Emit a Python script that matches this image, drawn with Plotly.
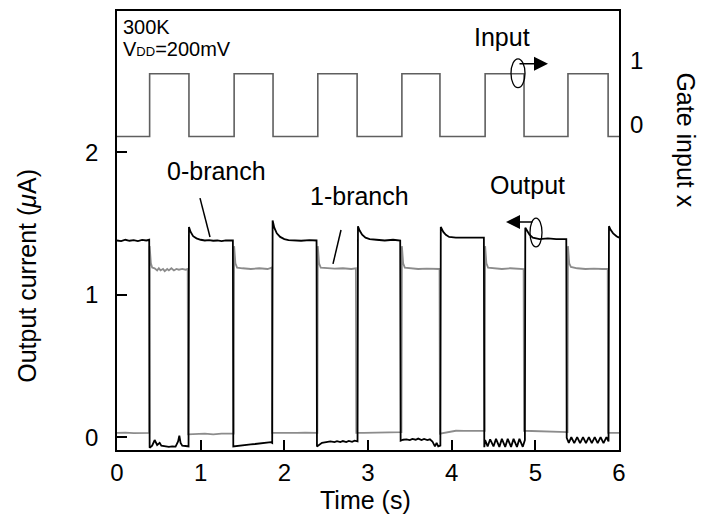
import plotly.graph_objects as go

# ---------------- data ----------------
# Gate input x (square wave), right axis
input_t = [0, 0.39, 0.39, 0.86, 0.86, 1.40, 1.40, 1.865, 1.865, 2.40, 2.40, 2.87, 2.87,
           3.405, 3.405, 3.86, 3.86, 4.40, 4.40, 4.865, 4.865, 5.39, 5.39, 5.87, 5.87, 6.0]
input_v = [0, 0, 1, 1, 0, 0, 1, 1, 0, 0, 1, 1, 0,
           0, 1, 1, 0, 0, 1, 1, 0, 0, 1, 1, 0, 0]

# 0-branch output current (uA), black
branch0_t = [0, 0.05, 0.10, 0.15, 0.20, 0.25, 0.30, 0.35, 0.385,
             0.39, 0.42, 0.45, 0.48, 0.51, 0.53, 0.57, 0.62, 0.66, 0.70, 0.73, 0.745, 0.76, 0.78, 0.82, 0.855,
             0.86, 0.88, 0.91, 0.95, 1.00, 1.05, 1.10, 1.15, 1.20, 1.25, 1.30, 1.385,
             1.39, 1.45, 1.50, 1.55, 1.60, 1.65, 1.70, 1.75, 1.80, 1.84, 1.855,
             1.86, 1.88, 1.91, 1.95, 2.00, 2.05, 2.10, 2.20, 2.30, 2.385,
             2.39, 2.42, 2.45, 2.50, 2.55, 2.60, 2.63, 2.67, 2.70, 2.74, 2.77, 2.81, 2.84, 2.875,
             2.88, 2.90, 2.93, 2.97, 3.02, 3.10, 3.20, 3.30, 3.385,
             3.39, 3.42, 3.46, 3.50, 3.53, 3.57, 3.60, 3.64, 3.67, 3.71, 3.74, 3.77, 3.80, 3.82, 3.84, 3.865,
             3.87, 3.90, 3.93, 3.97, 4.05, 4.15, 4.25, 4.385,
             4.39, 4.40, 4.43, 4.46, 4.50, 4.53, 4.57, 4.60, 4.64, 4.67, 4.71, 4.74, 4.78, 4.81, 4.85, 4.875,
             4.88, 4.90, 4.93, 4.97, 5.05, 5.15, 5.25, 5.37,
             5.375, 5.40, 5.43, 5.465, 5.50, 5.535, 5.57, 5.605, 5.64, 5.675, 5.71, 5.745, 5.78, 5.815, 5.85, 5.875,
             5.88, 5.90, 5.93, 5.97, 6.0]
branch0_i = [1.38, 1.375, 1.385, 1.378, 1.383, 1.376, 1.384, 1.38, 1.385,
             -0.075, -0.06, -0.02, -0.055, -0.04, -0.06, -0.065, -0.068, -0.065, -0.066, -0.03, 0.01, -0.04, -0.06, -0.062, -0.065,
             1.475, 1.44, 1.41, 1.395, 1.385, 1.38, 1.382, 1.378, 1.38, 1.376, 1.38, 1.38,
             -0.065, -0.06, -0.055, -0.052, -0.05, -0.048, -0.045, -0.043, -0.04, -0.035, -0.04,
             1.52, 1.47, 1.43, 1.405, 1.39, 1.383, 1.38, 1.378, 1.382, 1.38,
             -0.065, -0.05, -0.04, -0.035, -0.03, -0.035, -0.028, -0.035, -0.027, -0.034, -0.026, -0.033, -0.025, -0.03,
             1.48, 1.45, 1.42, 1.40, 1.39, 1.385, 1.38, 1.385, 1.38,
             -0.025, -0.018, -0.015, -0.02, -0.012, -0.018, -0.01, -0.02, -0.012, -0.02, -0.015, -0.03, -0.065, -0.04, -0.065, -0.06,
             1.475, 1.44, 1.42, 1.405, 1.40, 1.398, 1.40, 1.40,
             -0.07, -0.02, -0.065, -0.015, -0.065, -0.012, -0.068, -0.012, -0.068, -0.012, -0.068, -0.012, -0.068, -0.012, -0.068, -0.02,
             1.47, 1.45, 1.42, 1.40, 1.39, 1.395, 1.39, 1.39,
             -0.005, -0.04, 0.0, -0.042, 0.0, -0.042, 0.0, -0.042, 0.0, -0.042, 0.0, -0.042, 0.0, -0.042, 0.0, -0.03,
             1.48, 1.455, 1.43, 1.41, 1.40]

# 1-branch output current (uA), grey
branch1_t = [0, 0.10, 0.20, 0.30, 0.385,
             0.39, 0.405, 0.42, 0.45, 0.48, 0.50, 0.52, 0.55, 0.57, 0.60, 0.62, 0.65, 0.68, 0.71, 0.74, 0.78, 0.82, 0.845,
             0.85, 0.95, 1.05, 1.15, 1.25, 1.395,
             1.40, 1.415, 1.435, 1.50, 1.60, 1.70, 1.80, 1.85,
             1.855, 1.95, 2.05, 2.15, 2.25, 2.395,
             2.40, 2.415, 2.435, 2.50, 2.60, 2.70, 2.80, 2.855,
             2.86, 2.95, 3.05, 3.15, 3.25, 3.40,
             3.405, 3.42, 3.44, 3.50, 3.60, 3.70, 3.80, 3.855,
             3.86, 3.90, 4.00, 4.05, 4.15, 4.25, 4.395,
             4.40, 4.415, 4.435, 4.50, 4.60, 4.70, 4.80, 4.86,
             4.865, 4.95, 5.05, 5.15, 5.25, 5.385,
             5.39, 5.405, 5.425, 5.50, 5.60, 5.70, 5.80, 5.865,
             5.87, 5.95, 6.0]
branch1_i = [0.03, 0.032, 0.028, 0.03, 0.03,
             1.34, 1.22, 1.19, 1.185, 1.17, 1.185, 1.17, 1.18, 1.165, 1.18, 1.17, 1.185, 1.17, 1.18, 1.175, 1.18, 1.175, 1.18,
             0.02, 0.022, 0.025, 0.02, 0.025, 0.025,
             1.34, 1.22, 1.19, 1.185, 1.18, 1.185, 1.18, 1.19,
             0.03, 0.03, 0.028, 0.03, 0.032, 0.03,
             1.34, 1.22, 1.19, 1.185, 1.182, 1.185, 1.18, 1.185,
             0.03, 0.03, 0.032, 0.03, 0.033, 0.035,
             1.34, 1.22, 1.19, 1.185, 1.18, 1.183, 1.18, 1.18,
             0.025, 0.03, 0.04, 0.045, 0.044, 0.045, 0.045,
             1.34, 1.22, 1.19, 1.185, 1.18, 1.185, 1.18, 1.18,
             0.045, 0.044, 0.04, 0.038, 0.036, 0.035,
             1.34, 1.22, 1.195, 1.185, 1.18, 1.183, 1.18, 1.18,
             0.03, 0.03, 0.03]

x_ticks = [0, 1, 2, 3, 4, 5, 6]
y_ticks = [0, 1, 2]
y2_ticks = [0, 1]

# ---------------- layout helpers ----------------
W, H = 704, 518
L, R, T, B = 117, 619, 9, 450


def fx(px):
    return (px - L) / (R - L)


def fy(py):
    return (B - py) / (B - T)


FONT = "Liberation Sans, Arial, Helvetica, sans-serif"

fig = go.Figure()
fig.add_trace(go.Scatter(x=input_t, y=input_v, mode="lines", yaxis="y2",
                         line=dict(color="#5f5f5f", width=1.6), showlegend=False))
fig.add_trace(go.Scatter(x=branch1_t, y=branch1_i, mode="lines",
                         line=dict(color="#8c8c8c", width=1.8), showlegend=False))
fig.add_trace(go.Scatter(x=branch0_t, y=branch0_i, mode="lines",
                         line=dict(color="#000000", width=1.8), showlegend=False))

fig.update_layout(
    width=W, height=H,
    margin=dict(l=L, r=W - R, t=T, b=H - B),
    paper_bgcolor="white", plot_bgcolor="white",
    font=dict(family=FONT, color="black", size=24),
    xaxis=dict(range=[0, 6], tickvals=x_ticks, ticks="inside", ticklen=10, tickwidth=1.5,
               tickcolor="black", showline=True, linecolor="black", linewidth=1.6, mirror=True,
               showgrid=False, zeroline=False, tickfont=dict(size=24), ticklabelstandoff=0),
    yaxis=dict(range=[-0.09, 2.99], tickvals=y_ticks, ticks="inside", ticklen=10, tickwidth=1.5,
               tickcolor="black", showline=True, linecolor="black", linewidth=1.6, mirror=True,
               showgrid=False, zeroline=False, tickfont=dict(size=24), ticklabelstandoff=12),
    yaxis2=dict(range=[-5, 2], tickvals=y2_ticks, overlaying="y", side="right",
                showticklabels=False, ticks="", showgrid=False, zeroline=False, showline=False),
)

ann = []


def text(s, x, y, size=25, xanchor="center", angle=0):
    ann.append(dict(text=s, x=fx(x), y=fy(y), xref="paper", yref="paper", showarrow=False,
                    xanchor=xanchor, yanchor="middle", textangle=angle,
                    font=dict(size=size, family=FONT, color="black")))


text("300K", 121, 25, size=20, xanchor="left")
text("V<span style='font-size:13px'>DD</span>=200mV", 121, 47, size=20, xanchor="left")
text("Input", 502, 35)
text("Output", 527, 184)
text("0-branch", 216, 170)
text("1-branch", 359, 195)
text("Time (s)", 365, 500)
text("Output current (<i>μ</i>A)", 27, 275, angle=-90)
text("Gate input x", 686, 138, angle=90)
# right-axis tick labels
text("1", 636, 59, size=24)
text("0", 636, 123, size=24)

# rotation arrows
ann.append(dict(x=fx(548), y=fy(62), ax=-30, ay=0, xref="paper", yref="paper", text="",
                showarrow=True, arrowhead=2, arrowsize=2, arrowwidth=1.4, arrowcolor="black"))
ann.append(dict(x=fx(506), y=fy(221), ax=28, ay=0, xref="paper", yref="paper", text="",
                showarrow=True, arrowhead=2, arrowsize=2, arrowwidth=1.4, arrowcolor="black"))
fig.update_layout(annotations=ann)

shapes = [
    dict(type="circle", xref="paper", yref="paper", x0=fx(511), x1=fx(525), y0=fy(86), y1=fy(57),
         line=dict(color="black", width=1.3)),
    dict(type="circle", xref="paper", yref="paper", x0=fx(530), x1=fx(542), y0=fy(246), y1=fy(217),
         line=dict(color="black", width=1.3)),
    dict(type="line", xref="paper", yref="paper", x0=fx(200), y0=fy(197), x1=fx(210), y1=fy(236),
         line=dict(color="black", width=1.5)),
    dict(type="line", xref="paper", yref="paper", x0=fx(341), y0=fy(229), x1=fx(333), y1=fy(263),
         line=dict(color="black", width=1.5)),
]
fig.update_layout(shapes=shapes)

fig.write_html("out.html")
